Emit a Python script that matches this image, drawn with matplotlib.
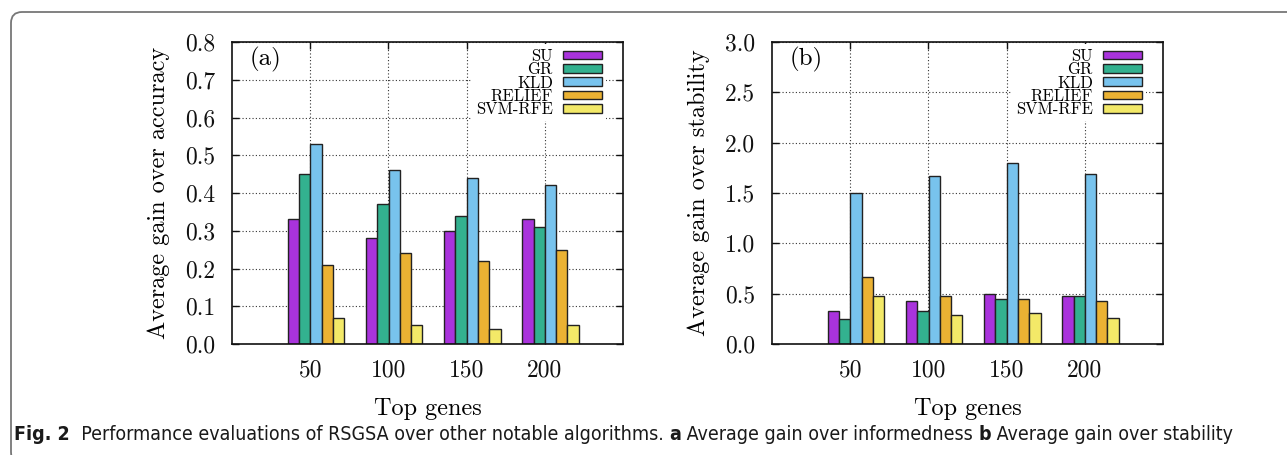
import matplotlib
matplotlib.use("Agg")
import matplotlib.pyplot as plt
import numpy as np
from matplotlib.patches import FancyBboxPatch
from matplotlib.transforms import IdentityTransform

categories = ["50", "100", "150", "200"]
series = ["SU", "GR", "KLD", "RELIEF", "SVM-RFE"]
acc_su = [0.33, 0.28, 0.30, 0.33]
acc_gr = [0.45, 0.37, 0.34, 0.31]
acc_kld = [0.53, 0.46, 0.44, 0.42]
acc_relief = [0.21, 0.24, 0.22, 0.25]
acc_svm = [0.07, 0.05, 0.04, 0.05]
stab_su = [0.33, 0.43, 0.50, 0.48]
stab_gr = [0.25, 0.33, 0.45, 0.48]
stab_kld = [1.50, 1.67, 1.80, 1.69]
stab_relief = [0.67, 0.48, 0.45, 0.43]
stab_svm = [0.48, 0.29, 0.31, 0.26]
acc_ticks = [0.0, 0.1, 0.2, 0.3, 0.4, 0.5, 0.6, 0.7, 0.8]
stab_ticks = [0.0, 0.5, 1.0, 1.5, 2.0, 2.5, 3.0]

colors = ["#a933dc", "#33b18f", "#78c3ed", "#ebb233", "#f3e968"]

plt.rcParams['font.family'] = ['cmr10', 'DejaVu Serif']
plt.rcParams['mathtext.fontset'] = 'cm'
plt.rcParams['axes.unicode_minus'] = False

W, H = 1287, 455
fig = plt.figure(figsize=(W / 100, H / 100), dpi=100)

def px_axes(l, t, r, b):
    return fig.add_axes([l / W, 1 - b / H, (r - l) / W, (b - t) / H])

def panel(ax, data, ylim, yticks, ylabel, tag):
    x = np.arange(1, len(categories) + 1)
    bw = 0.144
    for i, (vals, name) in enumerate(zip(data, series)):
        ax.bar(x - 0.214 + i * bw, vals, width=bw, color=colors[i],
               edgecolor="#222222", linewidth=1.0, label=name, zorder=3)
    ax.set_xlim(0, 5)
    ax.set_ylim(*ylim)
    ax.set_xticks(x)
    ax.set_xticklabels(categories)
    ax.set_yticks(yticks)
    ax.set_yticklabels([f"{v:.1f}" for v in yticks])
    ax.tick_params(direction="in", length=5, width=1.0, top=True, right=True,
                   labelsize=17, pad=11, colors="#111111")
    ax.tick_params(axis="y", pad=12)
    ax.grid(True, linestyle=(0, (1, 2)), color="#333333", linewidth=0.8, zorder=0)
    ax.set_axisbelow(True)
    for s in ax.spines.values():
        s.set_linewidth(1.2)
        s.set_color("#111111")
        s.set_zorder(6)
    ax.set_xlabel("Top genes", fontsize=17.5, labelpad=12)
    ax.set_ylabel(ylabel, fontsize=17.5, labelpad=11)
    ax.text(0.045, 0.985, tag, transform=ax.transAxes, fontsize=18, va="top", ha="left")
    leg = ax.legend(loc="upper right", bbox_to_anchor=(0.957, 0.992),
                    markerfirst=False, fontsize=12,
                    handlelength=2.35, handleheight=0.42, labelspacing=-0.12,
                    handletextpad=0.6, borderaxespad=0.0, borderpad=0.25,
                    frameon=True, fancybox=False, framealpha=1.0)
    leg.get_frame().set_edgecolor("none")
    leg.get_frame().set_facecolor("white")
    leg.set_zorder(5)

ax1 = px_axes(232, 42, 623, 344)
panel(ax1, [acc_su, acc_gr, acc_kld, acc_relief, acc_svm], (0, 0.8), acc_ticks,
      "Average gain over accuracy", "(a)")
ax2 = px_axes(772, 42, 1163, 344)
panel(ax2, [stab_su, stab_gr, stab_kld, stab_relief, stab_svm], (0, 3.0), stab_ticks,
      "Average gain over stability", "(b)")

# rounded frame (pixel coordinates, origin bottom-left)
frame = FancyBboxPatch((11, -8), W + 40, H - 12 + 8,
                       boxstyle="round,pad=0,rounding_size=11",
                       transform=IdentityTransform(), fill=False,
                       edgecolor="#777777", linewidth=1.3, clip_on=False)
fig.patches.append(frame)

# caption
pieces = [("Fig. 2", "bold"),
          ("  Performance evaluations of RSGSA over other notable algorithms. ", "normal"),
          ("a", "bold"), (" Average gain over informedness ", "normal"),
          ("b", "bold"), (" Average gain over stability", "normal")]
x0, x1, ybase = 14, 1232, 440
renderer = fig.canvas.get_renderer()

def layout(fs):
    texts = []
    xpos = x0
    for s, w in pieces:
        t = fig.text(xpos / W, 1 - ybase / H, s, fontsize=fs, fontweight=w,
                     family="DejaVu Sans", fontstretch="condensed",
                     color="#1a1a1a", va="baseline", ha="left")
        bb = t.get_window_extent(renderer=renderer)
        xpos = bb.x1
        texts.append(t)
    return texts, xpos

texts, xe = layout(12)
scale = (x1 - x0) / (xe - x0)
for t in texts:
    t.remove()
texts, xe = layout(12 * scale)

fig.savefig("out.png", dpi=100)
